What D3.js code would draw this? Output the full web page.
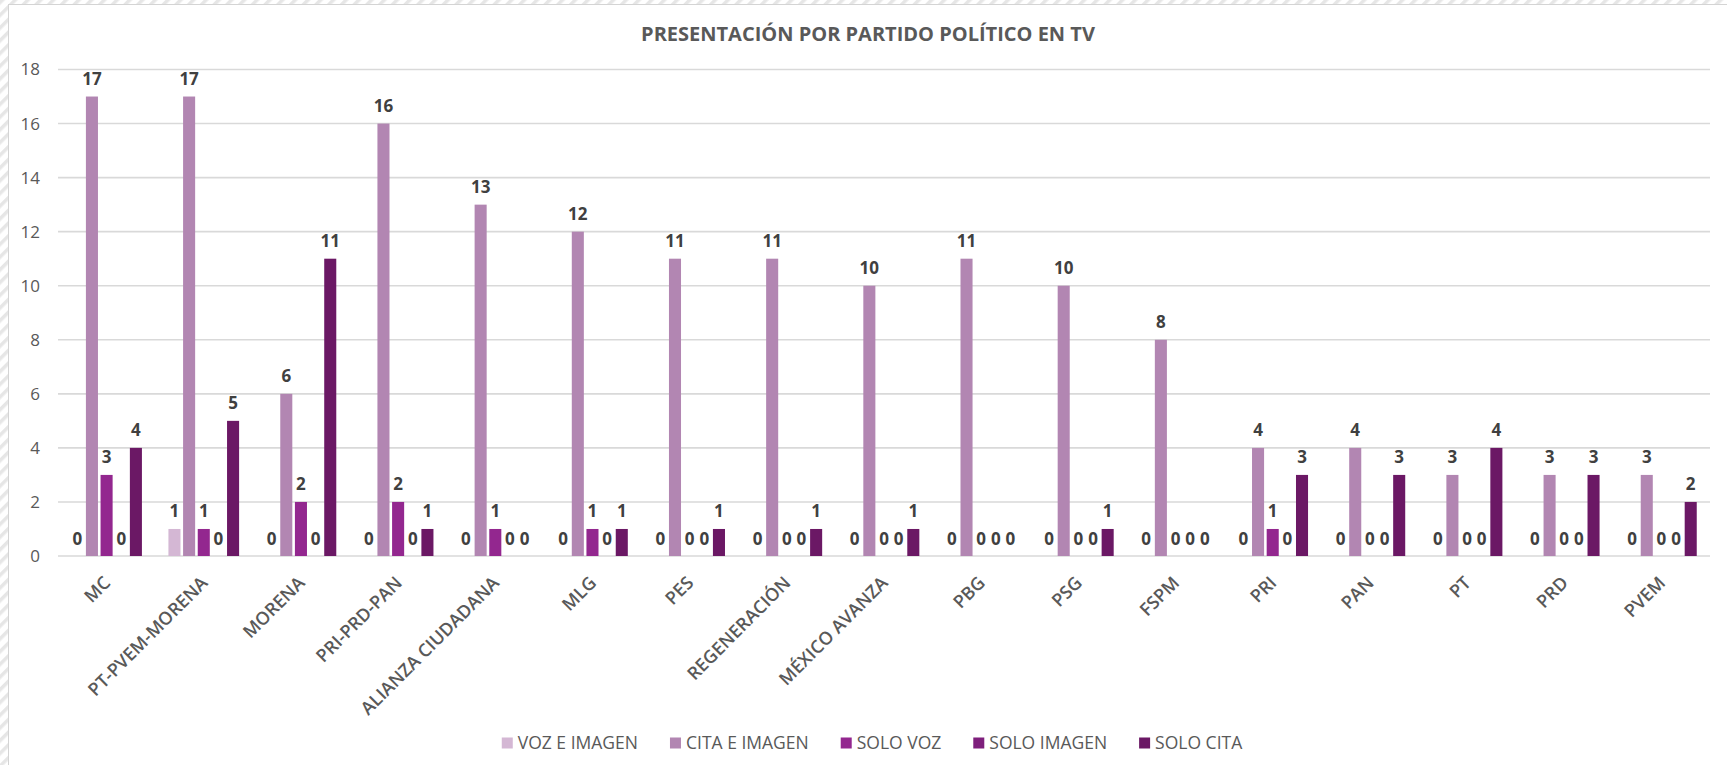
<!DOCTYPE html>
<html>
<head>
<meta charset="utf-8">
<script src="https://cdn.jsdelivr.net/npm/d3@7/dist/d3.min.js"></script>
<style>
  html, body { margin: 0; padding: 0; background: #fff; }
  svg { display: block; }
  text { font-family: "Open Sans", "Noto Sans", sans-serif; }
</style>
</head>
<body>
<svg id="chart" width="1727" height="765"></svg>
<script>
// ---- data ----
const categories = ["MC", "PT-PVEM-MORENA", "MORENA", "PRI-PRD-PAN", "ALIANZA CIUDADANA", "MLG", "PES",
  "REGENERACIÓN", "MÉXICO AVANZA", "PBG", "PSG", "FSPM", "PRI", "PAN", "PT", "PRD", "PVEM"];
const seriesNames = ["VOZ E IMAGEN", "CITA E IMAGEN", "SOLO VOZ", "SOLO IMAGEN", "SOLO CITA"];
const vozEImagen  = [0, 1, 0, 0, 0, 0, 0, 0, 0, 0, 0, 0, 0, 0, 0, 0, 0];
const citaEImagen = [17, 17, 6, 16, 13, 12, 11, 11, 10, 11, 10, 8, 4, 4, 3, 3, 3];
const soloVoz     = [3, 1, 2, 2, 1, 1, 0, 0, 0, 0, 0, 0, 1, 0, 0, 0, 0];
const soloImagen  = [0, 0, 0, 0, 0, 0, 0, 0, 0, 0, 0, 0, 0, 0, 0, 0, 0];
const soloCita    = [4, 5, 11, 1, 0, 1, 1, 1, 1, 0, 1, 0, 3, 3, 4, 3, 2];
const yTicks = [0, 2, 4, 6, 8, 10, 12, 14, 16, 18];
const title = "PRESENTACIÓN POR PARTIDO POLÍTICO EN TV";

const seriesValues = [vozEImagen, citaEImagen, soloVoz, soloImagen, soloCita];
const colors = ["#d4b7d4", "#b286b2", "#93278f", "#7e1f7c", "#6b1865"];

// ---- layout ----
const W = 1727, H = 765;
const plot = { left: 58, right: 1710, top: 69.5, bottom: 556 };

const svg = d3.select("#chart");

// hatched background
const defs = svg.append("defs");
const pat = defs.append("pattern")
  .attr("id", "hatch").attr("patternUnits", "userSpaceOnUse")
  .attr("width", 9).attr("height", 9)
  .attr("patternTransform", "rotate(45)");
pat.append("rect").attr("width", 9).attr("height", 9).attr("fill", "#ffffff");
pat.append("rect").attr("x", 0).attr("y", 0).attr("width", 3.5).attr("height", 9).attr("fill", "#e6e6e6");

svg.append("rect").attr("width", W).attr("height", H).attr("fill", "url(#hatch)");
svg.append("rect").attr("x", 8.5).attr("y", 4.5).attr("width", W).attr("height", H)
  .attr("fill", "#ffffff").attr("stroke", "#d4d4d4").attr("stroke-width", 1);

// title
svg.append("text")
  .attr("x", 868).attr("y", 41)
  .attr("text-anchor", "middle")
  .attr("font-size", 20).attr("font-weight", 700)
  .attr("fill", "#595959")
  .text(title);

// scales
const x0 = d3.scaleBand().domain(categories).range([plot.left, plot.right]).padding(0);
const bw = x0.bandwidth();
const x1 = d3.scaleBand().domain(seriesNames).range([bw * 0.123, bw * 0.877]).padding(0);
const y = d3.scaleLinear().domain([0, 18]).range([plot.bottom, plot.top]);

// gridlines
svg.append("g").selectAll("line").data(yTicks).join("line")
  .attr("x1", plot.left).attr("x2", plot.right)
  .attr("y1", d => y(d)).attr("y2", d => y(d))
  .attr("stroke", "#d9d9d9").attr("stroke-width", 1.6);

// y axis labels
const yAxis = d3.axisLeft(y).tickValues(yTicks).tickSize(0).tickPadding(0);
const gy = svg.append("g").attr("transform", `translate(40,0)`).call(yAxis);
gy.select(".domain").remove();
gy.selectAll("text").attr("font-size", 17).attr("fill", "#595959")
  .attr("font-family", "'Open Sans', sans-serif");

// bars
const barInset = 1.3;
const groups = svg.append("g").selectAll("g").data(categories).join("g")
  .attr("transform", d => `translate(${x0(d)},0)`);

groups.each(function(cat, ci) {
  const g = d3.select(this);
  seriesNames.forEach((s, si) => {
    const v = seriesValues[si][ci];
    const bx = x1(s);
    if (v > 0) {
      g.append("rect")
        .attr("x", bx + barInset)
        .attr("width", x1.bandwidth() - 2 * barInset)
        .attr("y", y(v))
        .attr("height", y(0) - y(v))
        .attr("fill", colors[si]);
    }
    g.append("text")
      .attr("x", bx + x1.bandwidth() / 2)
      .attr("y", y(v) - 11.5)
      .attr("text-anchor", "middle")
      .attr("font-size", 17).attr("font-weight", 700)
      .attr("fill", "#404040")
      .text(v);
  });
});

// x axis labels
const xAxis = d3.axisBottom(x0).tickSize(0).tickPadding(0);
const gx = svg.append("g").attr("transform", `translate(0,${plot.bottom})`).call(xAxis);
gx.select(".domain").remove();
gx.selectAll(".tick text")
  .attr("font-size", 18).attr("font-weight", 600).attr("fill", "#595959")
  .attr("font-family", "'Open Sans', sans-serif")
  .attr("text-anchor", "end")
  .attr("dy", 0).attr("y", 0)
  .attr("transform", "translate(5,28) rotate(-45)");

// legend
const legend = svg.append("g");
const items = legend.selectAll("g").data(seriesNames).join("g");
items.append("rect").attr("width", 11).attr("height", 11).attr("y", -5.5)
  .attr("fill", (d, i) => colors[i]);
items.append("text").attr("x", 16).attr("y", 0).attr("dy", "0.36em")
  .attr("font-size", 17.5).attr("fill", "#595959").text(d => d);
let widths = [];
items.each(function() { widths.push(16 + d3.select(this).select("text").node().getComputedTextLength()); });
const gap = 32;
const total = d3.sum(widths) + gap * (widths.length - 1);
let cx = 872 - total / 2;
items.attr("transform", (d, i) => {
  const t = `translate(${cx},743)`;
  cx += widths[i] + gap;
  return t;
});
</script>
</body>
</html>
